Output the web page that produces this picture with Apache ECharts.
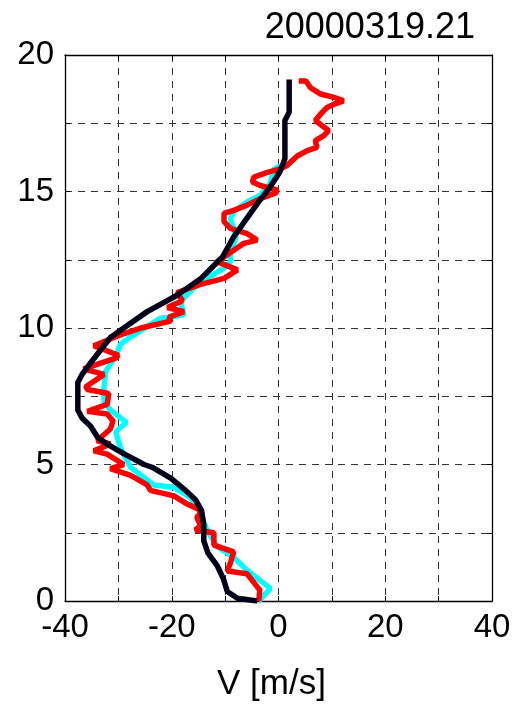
<!DOCTYPE html>
<html>
<head>
<meta charset="utf-8">
<script src="https://cdn.jsdelivr.net/npm/echarts@6/dist/echarts.min.js"></script>
<style>
    html, body { margin: 0; padding: 0; background: #fff; }
    #chart { width: 525px; height: 707px; }
</style>
</head>
<body>
<div id="chart"></div>
<script>
// profile label and axis name
const titleText = '20000319.21';
const xName = 'V [m/s]';

// [V (m/s), height] pairs, read bottom to top
const cyanProfile = [
    [-3.7, 0.0], [-1.5, 0.46], [-5.9, 1.13], [-8.4, 1.6], [-11.5, 2.0], [-13.4, 2.6],
    [-14.6, 3.2], [-16.5, 3.8], [-19.7, 4.17], [-23.4, 4.25], [-27.7, 4.9], [-29.6, 5.6],
    [-30.5, 6.2], [-28.5, 6.54], [-31.5, 7.0], [-32.7, 7.33], [-32.7, 7.8], [-32.4, 8.4],
    [-30.5, 8.97], [-29.6, 9.4], [-28.0, 9.64], [-25.0, 10.0], [-22.1, 10.36], [-17.7, 10.48],
    [-18.4, 10.97], [-15.9, 11.46], [-13.4, 11.82], [-10.2, 12.19], [-9.0, 12.43], [-9.0, 12.8],
    [-8.0, 13.3], [-8.4, 13.65], [-9.0, 14.0], [-8.4, 14.25], [-5.9, 14.62], [-3.4, 14.86],
    [-1.5, 15.3], [-0.9, 15.8], [0.4, 15.95]
];

const redProfile = [
    [-3.7, 0.0], [-3.5, 0.4], [-5.9, 1.0], [-9.6, 1.1], [-9.0, 1.4], [-8.4, 1.8],
    [-12.1, 2.05], [-12.1, 2.5], [-15.6, 2.6], [-14.6, 2.75], [-15.3, 3.07], [-14.3, 3.3],
    [-17.1, 3.55], [-19.6, 3.85], [-24.0, 4.05], [-24.6, 4.25], [-27.7, 4.6], [-31.5, 4.85],
    [-29.0, 5.0], [-32.1, 5.38], [-34.6, 5.5], [-31.5, 5.75], [-34.0, 5.87], [-31.5, 6.3],
    [-31.0, 6.6], [-32.1, 6.85], [-35.8, 6.95], [-32.1, 7.2], [-31.8, 7.6], [-35.8, 7.75],
    [-36.1, 7.85], [-32.7, 8.3], [-36.5, 8.5], [-30.5, 8.9], [-30.0, 9.0], [-34.6, 9.35],
    [-29.6, 9.75], [-25.8, 10.0], [-20.2, 10.25], [-20.5, 10.4], [-17.7, 10.6], [-20.8, 10.75],
    [-18.0, 11.0], [-19.0, 11.3], [-14.6, 11.6], [-10.2, 11.82], [-7.7, 12.13], [-11.5, 12.43],
    [-8.4, 12.85], [-6.5, 13.1], [-4.0, 13.22], [-5.9, 13.46], [-9.0, 13.65], [-10.2, 13.9],
    [-10.2, 14.2], [-8.4, 14.31], [-5.9, 14.5], [-3.4, 14.74], [-0.5, 14.95], [-0.2, 15.05],
    [-3.4, 15.22], [-4.9, 15.35], [-4.6, 15.53], [-2.1, 15.7], [0.4, 15.83], [1.6, 15.95],
    [3.5, 16.3], [5.4, 16.5], [7.2, 16.62], [6.9, 16.86], [8.5, 17.05], [9.4, 17.23],
    [8.2, 17.41], [6.9, 17.6], [7.9, 17.84], [9.1, 18.08], [10.4, 18.2], [12.2, 18.32],
    [10.4, 18.45], [7.9, 18.57], [6.0, 18.8], [5.1, 19.05], [3.8, 19.05]
];

const blackProfile = [
    [-4.0, 0.0], [-7.7, 0.1], [-9.6, 0.35], [-10.3, 0.8], [-11.5, 1.3], [-13.2, 1.75],
    [-14.0, 2.2], [-14.0, 2.8], [-14.4, 3.3], [-15.5, 3.7], [-17.7, 4.1], [-20.2, 4.5],
    [-23.7, 4.9], [-25.2, 5.0], [-29.0, 5.4], [-32.1, 5.75], [-33.9, 6.0], [-35.2, 6.4],
    [-36.8, 6.7], [-37.6, 7.0], [-37.6, 8.0], [-36.8, 8.3], [-34.9, 8.8], [-31.5, 9.65],
    [-29.0, 10.0], [-24.6, 10.6], [-19.0, 11.2], [-14.6, 11.8], [-10.5, 12.6], [-8.5, 13.3],
    [-6.0, 14.0], [-3.8, 14.6], [-1.8, 15.1], [0.2, 15.7], [1.2, 16.2], [1.2, 17.6],
    [2.0, 17.9], [2.0, 19.1]
];

const xTicks = { min: -40, max: 40, step: 10, labelStep: 20 };
const yTicks = { min: 0, max: 20, step: 2.5, labelStep: 5 };

const font = 'Liberation Sans, Arial, Helvetica, sans-serif';
const chart = echarts.init(document.getElementById('chart'));

const gridLine = { show: true, lineStyle: { color: '#333', width: 1, type: [7, 6] } };
const box = { show: true, onZero: false, lineStyle: { color: '#000', width: 1.3 } };
const tickIn = { show: true, inside: true, length: 5, lineStyle: { color: '#000', width: 1 } };

function lbl(step) {
    return v => (Math.abs(v / step - Math.round(v / step)) < 1e-6 ? String(v) : '');
}

chart.setOption({
    backgroundColor: '#fff',
    animation: false,
    title: {
        text: titleText,
        right: 45,
        top: 5,
        textStyle: { fontFamily: font, fontSize: 36, fontWeight: 'normal', color: '#000' }
    },
    grid: { left: 65, right: 33, top: 55, bottom: 103 },
    xAxis: [
        {
            type: 'value', min: xTicks.min, max: xTicks.max, interval: xTicks.step,
            position: 'bottom',
            name: xName, nameLocation: 'middle', nameGap: 66,
            nameTextStyle: { fontFamily: font, fontSize: 35, color: '#000', padding: [0, 14, 0, 0] },
            axisLine: box, axisTick: tickIn, splitLine: gridLine,
            axisLabel: { formatter: lbl(xTicks.labelStep), fontFamily: font, fontSize: 33, color: '#000', margin: 10 }
        },
        {
            type: 'value', min: xTicks.min, max: xTicks.max, interval: xTicks.step,
            position: 'top',
            axisLine: box, axisTick: tickIn, splitLine: { show: false }, axisLabel: { show: false }
        }
    ],
    yAxis: [
        {
            type: 'value', min: yTicks.min, max: yTicks.max, interval: yTicks.step,
            position: 'left',
            axisLine: box, axisTick: tickIn, splitLine: gridLine,
            axisLabel: { formatter: lbl(yTicks.labelStep), fontFamily: font, fontSize: 33, color: '#000', margin: 11 }
        },
        {
            type: 'value', min: yTicks.min, max: yTicks.max, interval: yTicks.step,
            position: 'right',
            axisLine: box, axisTick: tickIn, splitLine: { show: false }, axisLabel: { show: false }
        }
    ],
    series: [
        {
            name: 'cyan', type: 'line', data: cyanProfile, symbol: 'none',
            lineStyle: { color: '#00ffff', width: 5.5 }, z: 2
        },
        {
            name: 'red', type: 'line', data: redProfile, symbol: 'none',
            lineStyle: { color: '#ff0000', width: 5.5 }, z: 3
        },
        {
            name: 'black', type: 'line', data: blackProfile, symbol: 'none',
            lineStyle: { color: '#00001a', width: 5.5 }, z: 4
        }
    ]
});
</script>
</body>
</html>
